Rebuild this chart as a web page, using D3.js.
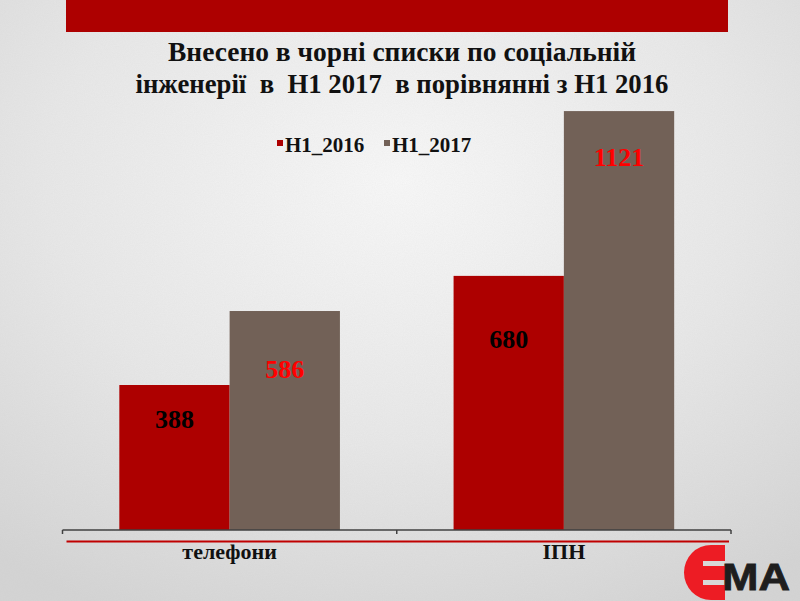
<!DOCTYPE html>
<html>
<head>
<meta charset="utf-8">
<script src="https://cdn.jsdelivr.net/npm/d3@7"></script>
<style>
html,body{margin:0;padding:0;background:#e6e6e6;}
svg{display:block;}
</style>
</head>
<body>
<svg id="chart" width="800" height="601"></svg>
<script>
const categories = ["телефони", "ІПН"];
const seriesNames = ["H1_2016", "H1_2017"];
const values2016 = [388, 680];
const values2017 = [586, 1121];
const titleLines = ["Внесено в чорні списки по соціальній", "інженерії  в  H1 2017  в порівнянні з H1 2016"];
const seriesColors = ["#ad0000", "#726157"];
const labelColors = ["#000000", "#ff0000"];

const W = 800, H = 601;
const svg = d3.select("#chart");
const defs = svg.append("defs");

// background
const rg = defs.append("radialGradient").attr("id", "bg")
  .attr("cx", "50%").attr("cy", "30%").attr("r", "80%");
rg.append("stop").attr("offset", "0%").attr("stop-color", "#f8f8f8");
rg.append("stop").attr("offset", "55%").attr("stop-color", "#e8e8e8");
rg.append("stop").attr("offset", "100%").attr("stop-color", "#d4d4d4");
const f = defs.append("filter").attr("id", "noise").attr("x", 0).attr("y", 0).attr("width", "100%").attr("height", "100%");
f.append("feTurbulence").attr("type", "fractalNoise").attr("baseFrequency", 0.9).attr("numOctaves", 2).attr("seed", 3);
f.append("feColorMatrix").attr("type", "matrix")
  .attr("values", "0 0 0 0 0.5  0 0 0 0 0.5  0 0 0 0 0.5  0 0 0 0.12 0");
svg.append("rect").attr("width", W).attr("height", H).attr("fill", "url(#bg)");
svg.append("rect").attr("width", W).attr("height", H).attr("filter", "url(#noise)");

// banner
svg.append("rect").attr("x", 66).attr("y", 0).attr("width", 662).attr("height", 32).attr("fill", "#ad0000");

// title
const serif = "'Liberation Serif','Times New Roman',serif";
const titleWidths = [468, 533];
svg.append("g").selectAll("text").data(titleLines).join("text")
  .attr("x", 402).attr("y", (d, i) => 61 + i * 32)
  .attr("text-anchor", "middle")
  .attr("font-family", serif).attr("font-weight", "bold").attr("font-size", 27)
  .attr("fill", "#111")
  .attr("textLength", (d, i) => titleWidths[i]).attr("lengthAdjust", "spacingAndGlyphs")
  .style("white-space", "pre")
  .text(d => d);

// scales
const baseY = 530;
const x0 = d3.scaleBand().domain(categories).range([62.5, 731]).padding(0);
const bw = x0.bandwidth();
const x1 = d3.scaleBand().domain(seriesNames).range([bw * 0.17, bw * 0.83]).padding(0);
const y = d3.scaleLinear().domain([0, 1200]).range([baseY, baseY - 1200 * 0.3737]);

const data = categories.map((c, i) => ({cat: c, vals: [values2016[i], values2017[i]]}));

const groups = svg.append("g").selectAll("g").data(data).join("g")
  .attr("transform", d => `translate(${x0(d.cat)},0)`);
groups.selectAll("rect").data(d => d.vals.map((v, j) => ({s: seriesNames[j], v, j}))).join("rect")
  .attr("x", d => x1(d.s)).attr("width", x1.bandwidth())
  .attr("y", d => y(d.v)).attr("height", d => baseY - y(d.v))
  .attr("fill", d => seriesColors[d.j]);

// data labels (offset below bar top, as placed in the original)
const labelOffsets = [[43, 67], [72, 55]];
groups.each(function(d, i) {
  d3.select(this).selectAll("text.lbl").data(d.vals.map((v, j) => ({s: seriesNames[j], v, j}))).join("text")
    .attr("class", "lbl")
    .attr("x", e => x1(e.s) + x1.bandwidth() / 2)
    .attr("y", e => y(e.v) + labelOffsets[i][e.j])
    .attr("text-anchor", "middle")
    .attr("font-family", serif).attr("font-weight", "bold").attr("font-size", 26)
    .attr("fill", e => labelColors[e.j])
    .text(e => e.v);
});

// axis
const axis = svg.append("g").attr("transform", `translate(0,${baseY})`)
  .call(d3.axisBottom(x0).tickSize(0).tickFormat(""));
axis.select(".domain").remove();
axis.append("line").attr("x1", x0.range()[0]).attr("x2", x0.range()[1]).attr("stroke", "#404040").attr("stroke-width", 1.5);
const tickPos = [x0.range()[0], x0(categories[1]), x0.range()[1]];
axis.selectAll("line.tk").data(tickPos).join("line").attr("class", "tk")
  .attr("x1", d => d).attr("x2", d => d).attr("y1", 0).attr("y2", 4)
  .attr("stroke", "#404040").attr("stroke-width", 1.5);

// red underline
svg.append("line").attr("x1", 66.5).attr("x2", 729).attr("y1", 541.5).attr("y2", 541.5)
  .attr("stroke", "#c00000").attr("stroke-width", 2);

// category labels
svg.append("g").selectAll("text").data(categories).join("text")
  .attr("x", d => x0(d) + bw / 2).attr("y", 559)
  .attr("text-anchor", "middle")
  .attr("font-family", serif).attr("font-weight", "bold").attr("font-size", 22)
  .attr("fill", "#111")
  .text(d => d);

// legend
const legendX = [277, 384];
const lg = svg.append("g").selectAll("g").data(seriesNames).join("g")
  .attr("transform", (d, i) => `translate(${legendX[i]},0)`);
lg.append("rect").attr("x", 0).attr("y", 140).attr("width", 6).attr("height", 6)
  .attr("fill", (d, i) => seriesColors[i]);
lg.append("text").attr("x", 8).attr("y", 152)
  .attr("font-family", serif).attr("font-weight", "bold").attr("font-size", 21)
  .attr("fill", "#111").text(d => d);

// logo
const logo = svg.append("g");
logo.append("path")
  .attr("d", "M725,545 L711,545 A27,27.5 0 0 0 711,600 L725,600 Z")
  .attr("fill", "#ed1c24");
logo.append("rect").attr("x", 703).attr("y", 561).attr("width", 23).attr("height", 5).attr("fill", "#d8d8d8");
logo.append("rect").attr("x", 703).attr("y", 580).attr("width", 23).attr("height", 5).attr("fill", "#d8d8d8");
logo.append("text").attr("x", 722).attr("y", 590)
  .attr("font-family", "'Liberation Sans Narrow','Liberation Sans',Arial,sans-serif")
  .attr("font-weight", "bold").attr("font-size", 36)
  .attr("textLength", 68).attr("lengthAdjust", "spacingAndGlyphs")
  .attr("stroke", "#1e1e1e").attr("stroke-width", 0.8)
  .attr("fill", "#1e1e1e").text("MA");
</script>
</body>
</html>
